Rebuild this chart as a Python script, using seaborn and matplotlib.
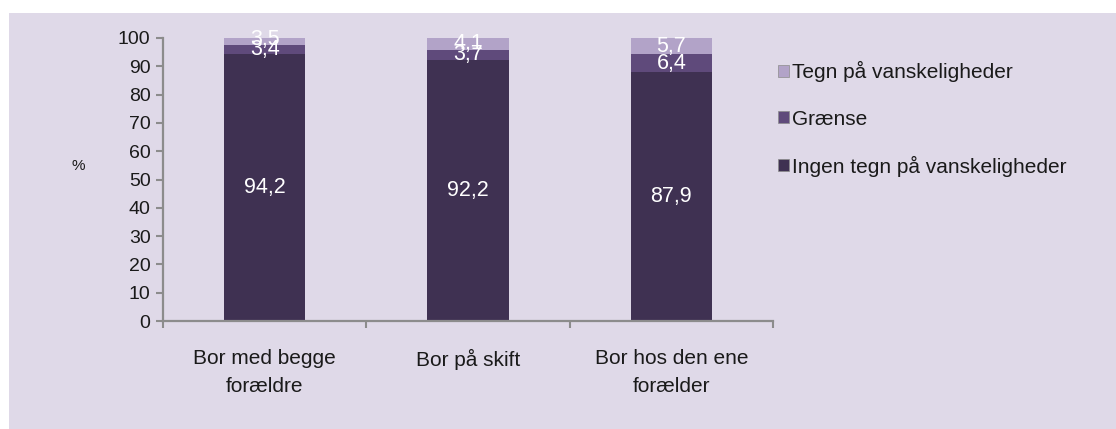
import numpy as np
import pandas as pd
import matplotlib
matplotlib.use("Agg")
import matplotlib.pyplot as plt
from matplotlib.patches import Rectangle, Patch
import seaborn as sns

categories = ["Bor med begge\nforældre", "Bor på skift", "Bor hos den ene\nforælder"]
ingen = [94.2, 92.2, 87.9]
graense = [3.4, 3.7, 6.4]
tegn = [3.5, 4.1, 5.7]
series_names = ["Ingen tegn på vanskeligheder", "Grænse", "Tegn på vanskeligheder"]
yticks = [0, 10, 20, 30, 40, 50, 60, 70, 80, 90, 100]

colors = ["#3f3152", "#5f4a7b", "#b2a3c8"]
bg = "#dfd9e8"

sns.set_theme(style="white")
plt.rcParams["font.family"] = ["Liberation Sans", "DejaVu Sans"]

fig = plt.figure(figsize=(11.16, 4.29), dpi=100)
fig.patch.set_facecolor("white")
fig.patches.append(Rectangle((9 / 1116, 0), 1.0, 1 - 13 / 429, transform=fig.transFigure,
                             facecolor=bg, edgecolor="none", zorder=-10))

ax = fig.add_axes([163 / 1116, 1 - 321 / 429, (773 - 163) / 1116, (321 - 38) / 429])
ax.set_facecolor("none")

df = pd.DataFrame({"cat": categories, "ingen": ingen, "graense": graense, "tegn": tegn})
df["c1"] = df["ingen"]
df["c2"] = df["ingen"] + df["graense"]
df["c3"] = df["c2"] + df["tegn"]

for col, c in zip(["c3", "c2", "c1"], colors[::-1]):
    sns.barplot(data=df, x="cat", y=col, color=c, width=0.4, ax=ax,
                saturation=1, linewidth=0, errorbar=None)

# value labels centered in segments
for i in range(len(categories)):
    bottoms = [0, df["c1"][i], df["c2"][i]]
    vals = [ingen[i], graense[i], tegn[i]]
    for b, v in zip(bottoms, vals):
        ax.text(i, b + v / 2, f"{v:.1f}".replace(".", ","), ha="center", va="center",
                color="white", fontsize=15.5)

ax.set_ylim(0, 100)
ax.set_xlim(-0.5, 2.5)
ax.set_yticks(yticks)
ax.set_yticklabels([str(t) for t in yticks], fontsize=14, color="#1a1a1a")
ax.set_xticks(range(len(categories)))
ax.set_xticklabels(categories, fontsize=15, color="#1a1a1a", linespacing=1.6)
ax.set_xticks([-0.5, 0.5, 1.5, 2.5], minor=True)
ax.tick_params(axis="x", which="major", length=0, pad=20, bottom=False)
ax.tick_params(axis="x", which="minor", length=5, width=1.5, color="#8c8c8c",
               direction="out", bottom=True)
ax.tick_params(axis="y", length=5, width=1.5, color="#8c8c8c", direction="out", pad=4, left=True)
ax.set_xlabel("")
ax.set_ylabel("%", rotation=0, fontsize=11, color="#1a1a1a", labelpad=0, va="center")
ax.yaxis.set_label_coords((78 - 163) / (773 - 163), (321 - 166) / (321 - 38))
for s in ["top", "right"]:
    ax.spines[s].set_visible(False)
for s in ["left", "bottom"]:
    ax.spines[s].set_color("#8c8c8c")
    ax.spines[s].set_linewidth(1.6)

handles = [Patch(facecolor=colors[i], edgecolor="#8c8c8c", linewidth=0.5) for i in [2, 1, 0]]
labels = [series_names[i] for i in [2, 1, 0]]
fig.legend(handles, labels, loc="upper left", bbox_to_anchor=(768 / 1116, 1 - 51 / 429),
           frameon=False, fontsize=15, handlelength=0.5, handleheight=0.5,
           handletextpad=0.15, labelspacing=1.3, borderpad=0, labelcolor="#1a1a1a")

fig.savefig("out.png", dpi=100, facecolor="white")
